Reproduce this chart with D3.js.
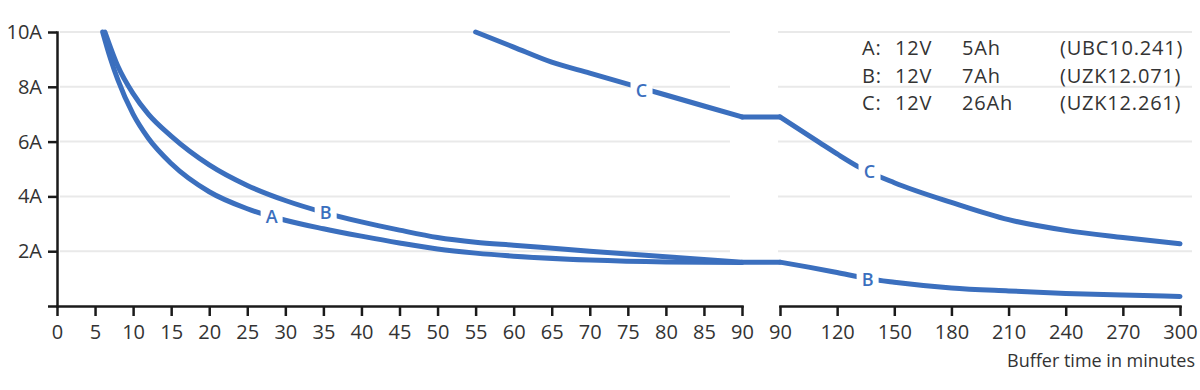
<!DOCTYPE html>
<html>
<head>
<meta charset="utf-8">
<script src="https://cdn.jsdelivr.net/npm/d3@7/dist/d3.min.js"></script>
<style>
  html, body { margin: 0; padding: 0; background: #fff; }
  svg { display: block; font-family: "Open Sans", "Noto Sans", sans-serif; }
</style>
</head>
<body>
<svg id="chart" width="1200" height="390"></svg>
<script>
// ---------- data ----------
const leftTicks  = [0,5,10,15,20,25,30,35,40,45,50,55,60,65,70,75,80,85,90];
const rightTicks = [90,120,150,180,210,240,270,300];
const yTicks     = [0,2,4,6,8,10];
const yTickLabels = ["", "2A", "4A", "6A", "8A", "10A"];

// Series A: 12V 5Ah (left part only, 0-90 min)
const aLeftMin = [6, 7, 8, 10, 12, 15, 20, 25, 30, 35, 40, 45, 50, 55, 60, 70, 80, 90];
const aLeftAmp = [10.0, 9.05, 8.25, 7.0, 6.12, 5.2, 4.17, 3.55, 3.13, 2.82, 2.55, 2.3, 2.08, 1.93, 1.82, 1.68, 1.61, 1.59];

// Series B: 12V 7Ah
const bLeftMin = [6.3, 8, 10, 12, 15, 20, 25, 30, 35, 40, 45, 50, 55, 60, 70, 80, 90];
const bLeftAmp = [10.0, 8.75, 7.75, 7.0, 6.2, 5.15, 4.4, 3.85, 3.42, 3.07, 2.77, 2.5, 2.33, 2.22, 2.0, 1.8, 1.6];
const bRightMin = [90, 105, 120, 136, 150, 180, 210, 240, 270, 300];
const bRightAmp = [1.6, 1.42, 1.22, 1.0, 0.87, 0.66, 0.55, 0.46, 0.4, 0.35];

// Series C: 12V 26Ah
const cLeftMin = [55, 60, 65, 70, 75, 80, 85, 90];
const cLeftAmp = [10.0, 9.45, 8.9, 8.5, 8.1, 7.7, 7.3, 6.9];
const cRightMin = [90, 111, 120, 132, 150, 180, 210, 240, 270, 300];
const cRightAmp = [6.9, 5.95, 5.55, 5.05, 4.5, 3.78, 3.15, 2.76, 2.5, 2.27];

// inline curve labels
const curveLabelText  = ["A", "B", "C", "C", "B"];
const curveLabelPanel = ["L", "L", "L", "R", "R"];
const curveLabelMin   = [28.2, 35.3, 76.8, 137, 136];
const curveLabelAmp   = [3.27, 3.4, 7.88, 4.92, 0.98];

// legend
const legendLetter = ["A:", "B:", "C:"];
const legendVolt   = ["12V", "12V", "12V"];
const legendCap    = ["5Ah", "7Ah", "26Ah"];
const legendModel  = ["(UBC10.241)", "(UZK12.071)", "(UZK12.261)"];

const xTitle = "Buffer time in minutes";

// ---------- drawing ----------
const blue = "#3b6fbe";
const svg = d3.select("#chart");

const xL = d3.scaleLinear().domain([0, 90]).range([57, 742]);
const xR = d3.scaleLinear().domain([90, 300]).range([780, 1180]);
const y  = d3.scaleLinear().domain([0, 10]).range([306, 32]);

// gridlines
const grid = svg.append("g");
yTicks.filter(d => d > 0).forEach(v => {
  grid.append("line").attr("x1", xL(0) + 3).attr("x2", xL(90) - 12)
    .attr("y1", y(v)).attr("y2", y(v))
    .attr("stroke", "#e9e9e9").attr("stroke-width", 2);
  grid.append("line").attr("x1", xR(90) - 2).attr("x2", xR(300) + 12)
    .attr("y1", y(v)).attr("y2", y(v))
    .attr("stroke", "#e9e9e9").attr("stroke-width", 2);
});

// axes
function styleAxis(g) {
  g.selectAll("path, line").attr("stroke", "#1a1a1a").attr("stroke-width", 2.5);
  g.selectAll("text").attr("fill", "#333").style("font-size", "20px")
    .style("font-family", '"Open Sans", sans-serif');
}
const yAxis = d3.axisLeft(y).tickValues(yTicks)
  .tickFormat((d, i) => yTickLabels[i]).tickSize(9).tickSizeOuter(0).tickPadding(6);
svg.append("g").attr("transform", `translate(${xL(0)},0)`).call(yAxis).call(styleAxis);

const xAxisL = d3.axisBottom(xL).tickValues(leftTicks).tickSize(10).tickSizeOuter(0).tickPadding(9);
svg.append("g").attr("transform", `translate(0,${y(0)})`).call(xAxisL).call(styleAxis);

const xAxisR = d3.axisBottom(xR).tickValues(rightTicks).tickSize(10).tickSizeOuter(0).tickPadding(9);
svg.append("g").attr("transform", `translate(0,${y(0)})`).call(xAxisR).call(styleAxis);

svg.selectAll(".domain").attr("stroke-linecap", "square");

// x title
svg.append("text").attr("x", 1195).attr("y", 367).attr("text-anchor", "end")
  .attr("fill", "#333").style("font-size", "18px").text(xTitle);

// curves
const lineL = d3.line().x(d => xL(d[0])).y(d => y(d[1])).curve(d3.curveMonotoneX);
const lineR = d3.line().x(d => xR(d[0])).y(d => y(d[1])).curve(d3.curveMonotoneX);
const zip = (a, b) => a.map((v, i) => [v, b[i]]);

const curves = svg.append("g").attr("fill", "none").attr("stroke", blue)
  .attr("stroke-width", 5).attr("stroke-linecap", "round").attr("stroke-linejoin", "round");

function drawSeries(lm, la, rm, ra) {
  curves.append("path").attr("d", lineL(zip(lm, la)));
  if (rm) {
    curves.append("line")
      .attr("x1", xL(lm[lm.length - 1])).attr("y1", y(la[la.length - 1]))
      .attr("x2", xR(rm[0])).attr("y2", y(ra[0]));
    curves.append("path").attr("d", lineR(zip(rm, ra)));
  }
}
drawSeries(aLeftMin, aLeftAmp, null, null);
drawSeries(bLeftMin, bLeftAmp, bRightMin, bRightAmp);
drawSeries(cLeftMin, cLeftAmp, cRightMin, cRightAmp);

// inline labels
const lab = svg.append("g");
curveLabelText.forEach((t, i) => {
  const sx = curveLabelPanel[i] === "L" ? xL(curveLabelMin[i]) : xR(curveLabelMin[i]);
  const sy = y(curveLabelAmp[i]);
  lab.append("rect").attr("x", sx - 11).attr("y", sy - 10).attr("width", 22).attr("height", 20)
    .attr("fill", "#fff");
  lab.append("text").attr("x", sx).attr("y", sy).attr("dy", "0.36em")
    .attr("text-anchor", "middle").attr("fill", blue)
    .style("font-size", "18px").style("font-weight", 600).text(t);
});

// legend
const leg = svg.append("g").attr("fill", "#333").style("font-size", "20px")
  .style("letter-spacing", "0.8px");
const legCols = [[862, legendLetter], [895, legendVolt], [962, legendCap], [1060, legendModel]];
legendLetter.forEach((_, r) => {
  legCols.forEach(([cx, arr]) => {
    leg.append("text").attr("x", cx).attr("y", 55 + r * 27.5).text(arr[r]);
  });
});
</script>
</body>
</html>
